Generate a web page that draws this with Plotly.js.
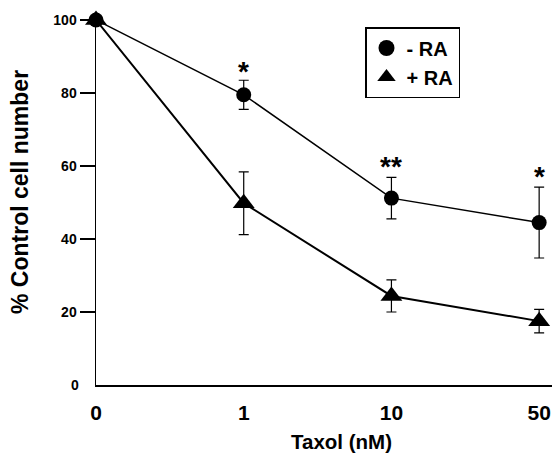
<!DOCTYPE html>
<html>
<head>
<meta charset="utf-8">
<script src="https://cdn.plot.ly/plotly-3.0.1.min.js"></script>
<style>html,body{margin:0;padding:0;background:#fff;}#chart{width:552px;height:456px;}</style>
</head>
<body>
<div id="chart"></div>
<script>
// Data
var doses = ['0', '1', '10', '50'];
var minusRA = [100, 79.5, 51.2, 44.5];
var minusRAErr = [0, 4, 5.7, 9.7];
var plusRA = [100, 49.8, 24.4, 17.5];
var plusRAErr = [0, 8.6, 4.4, 3.2];
var sigLabels = ['', '*', '**', '*'];
var sigY = [null, 86, 60, 57];
var yTicks = [20, 40, 60, 80, 100];
var yZeroLabel = '0';

var FONT = 'Liberation Sans, Arial, Helvetica, sans-serif';
var W = 552, H = 456, ML = 96, MR = 0, MT = 20, MB = 71;
var PW = W - ML - MR, PH = H - MT - MB;

var traces = [
  {
    x: doses, y: minusRA, name: '- RA', type: 'scatter', mode: 'lines+markers',
    line: {color: '#000', width: 1.5},
    marker: {symbol: 'circle', size: 15, color: '#000'},
    error_y: {type: 'data', array: minusRAErr, visible: true, color: '#000', thickness: 1.2, width: 5},
    cliponaxis: false, showlegend: false
  },
  {
    x: doses, y: plusRA, name: '+ RA', type: 'scatter', mode: 'lines+markers',
    line: {color: '#000', width: 2},
    marker: {symbol: 'triangle-up', size: 19, color: '#000'},
    error_y: {type: 'data', array: plusRAErr, visible: true, color: '#000', thickness: 1.2, width: 5},
    cliponaxis: false, showlegend: false
  },
  {x: [null], y: [null], name: '- RA', type: 'scatter', mode: 'markers',
   marker: {symbol: 'circle', size: 16, color: '#000'}, showlegend: true},
  {x: [null], y: [null], name: '+ RA', type: 'scatter', mode: 'markers',
   marker: {symbol: 'triangle-up', size: 16, color: '#000'}, showlegend: true}
];

var annotations = [];
for (var i = 0; i < doses.length; i++) {
  if (sigLabels[i]) {
    annotations.push({
      x: i, y: sigY[i], xref: 'x', yref: 'y', text: sigLabels[i],
      showarrow: false, yanchor: 'middle',
      font: {family: FONT, size: 28, color: '#000', weight: 700}
    });
  }
}
// x-axis title
annotations.push({
  xref: 'paper', yref: 'paper', x: (341 - ML) / PW, y: -(442 - (MT + PH)) / PH,
  xanchor: 'center', yanchor: 'middle',
  text: 'Taxol (nM)', showarrow: false,
  font: {family: FONT, size: 20.5, color: '#000', weight: 700}
});
// y-axis title
annotations.push({
  xref: 'paper', yref: 'paper', x: (20 - ML) / PW, y: ((MT + PH) - 192) / PH,
  xanchor: 'center', yanchor: 'middle', textangle: -90,
  text: '% Control cell number', showarrow: false,
  font: {family: FONT, size: 23, color: '#000', weight: 700}
});
// y = 0 label (drawn without a tick in the original)
annotations.push({
  xref: 'paper', yref: 'y', x: (81 - ML) / PW, y: 0,
  xanchor: 'right', yanchor: 'middle',
  text: yZeroLabel, showarrow: false,
  font: {family: FONT, size: 14, color: '#000', weight: 700}
});

var layout = {
  width: W, height: H,
  margin: {l: ML, r: MR, t: MT, b: MB},
  paper_bgcolor: '#fff', plot_bgcolor: '#fff',
  font: {family: FONT, color: '#000'},
  xaxis: {
    type: 'category', range: [0, 3.087],
    showgrid: false, zeroline: false,
    showline: true, linecolor: '#000', linewidth: 2,
    ticks: '', ticklabelstandoff: 8,
    tickfont: {family: FONT, size: 21, color: '#000', weight: 700}
  },
  yaxis: {
    range: [0, 100], tickvals: yTicks,
    showgrid: false, zeroline: false,
    showline: true, linecolor: '#000', linewidth: 1.5,
    ticks: 'outside', ticklen: 15, tickwidth: 1.5, tickcolor: '#000',
    tickfont: {family: FONT, size: 14, color: '#000', weight: 700}
  },
  legend: {
    x: (365 - ML) / PW, y: 1 - (27 - MT) / PH, xanchor: 'left', yanchor: 'top',
    bordercolor: '#000', borderwidth: 1.5, bgcolor: '#fff',
    font: {family: FONT, size: 20, color: '#000', weight: 700},
    itemwidth: 30, tracegroupgap: 0
  },
  annotations: annotations,
  showlegend: true
};

Plotly.newPlot('chart', traces, layout, {staticPlot: true, displayModeBar: false});
</script>
</body>
</html>
